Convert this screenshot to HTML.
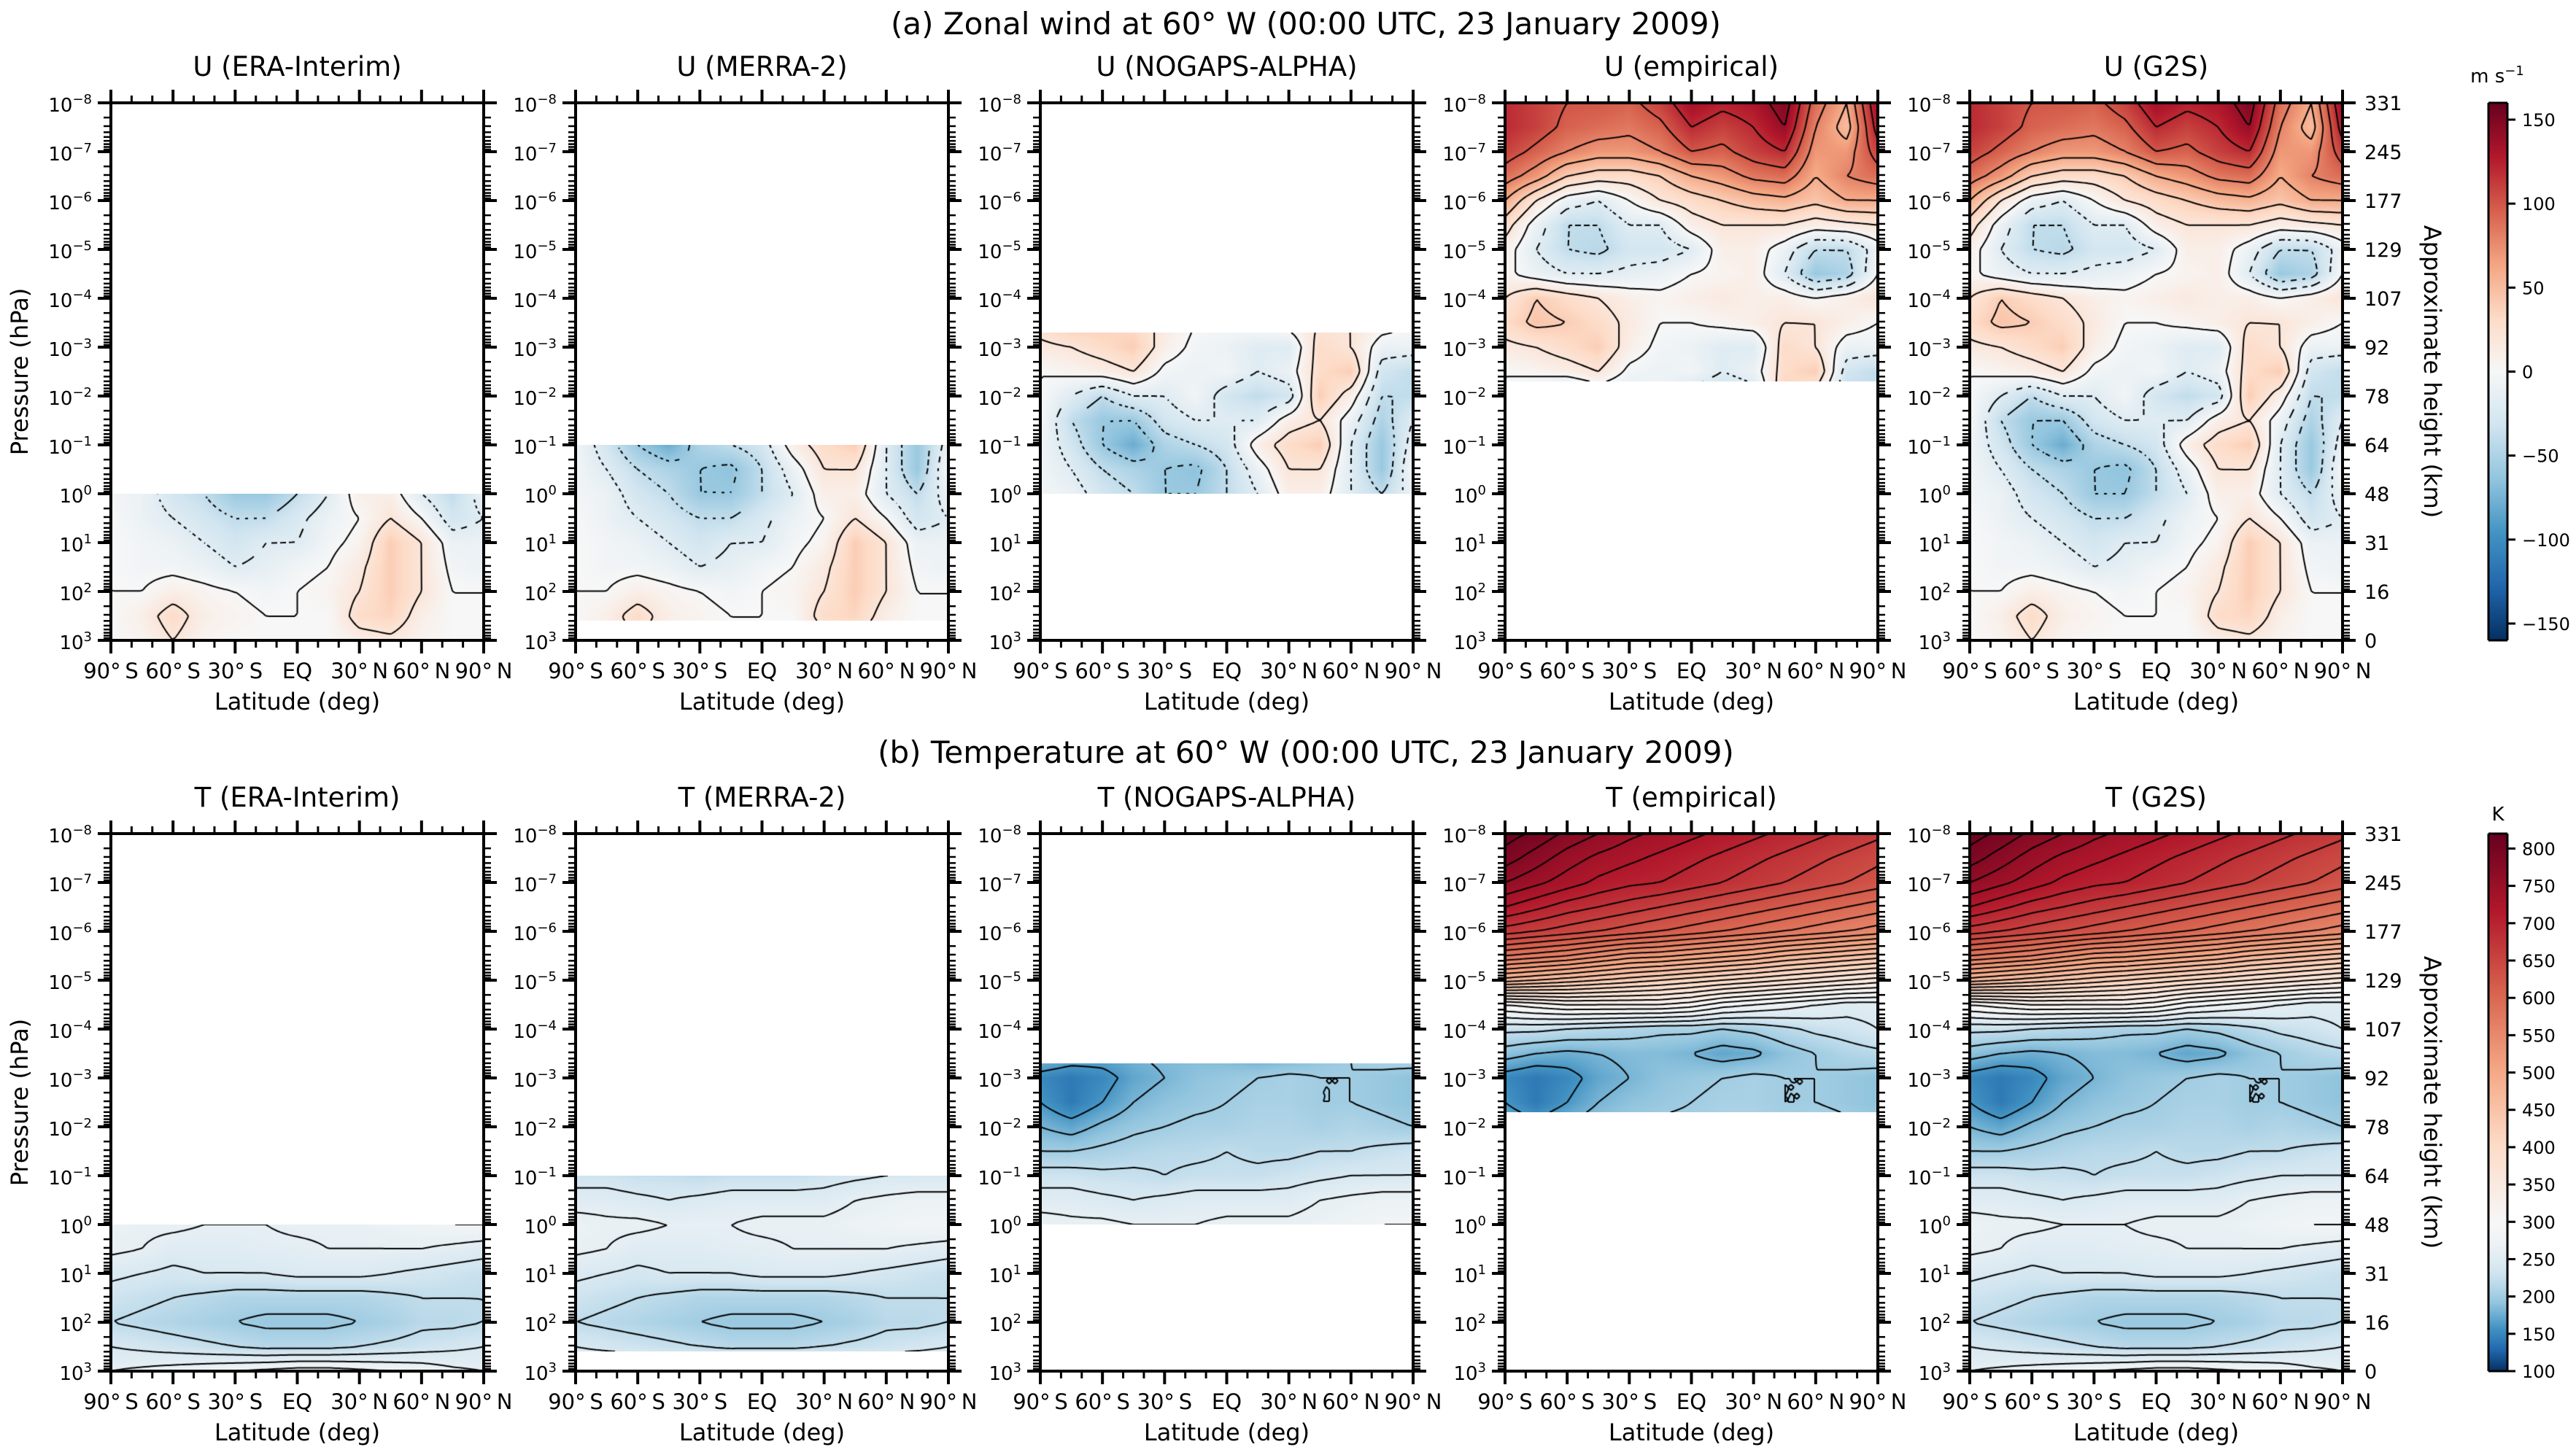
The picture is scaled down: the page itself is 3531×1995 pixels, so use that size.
<!DOCTYPE html>
<html><head><meta charset="utf-8">
<style>
html,body{margin:0;padding:0;background:#fff;}
#root{position:relative;width:3531px;height:1995px;overflow:hidden;background:#fff;font-family:"DejaVu Sans","Liberation Sans",sans-serif;}
canvas{position:absolute;}
svg{position:absolute;left:0;top:0;}
</style></head>
<body>
<div id="root">
<svg id="ov" width="3531" height="1995"></svg>
</div>
<script>
// ---- data ----
const latitudes=[-90,-75,-60,-45,-30,-15,0,15,30,45,60,75,90];
const logPressureLevels=[-8,-7.5,-7,-6.5,-6,-5.5,-5,-4.5,-4,-3.5,-3,-2.5,-2,-1.5,-1,-0.5,0,0.5,1,1.5,2,2.5,3];
const uWind=[
[120,110,100,100,95,110,135,125,130,150,90,60,140],
[120,110,95,90,85,95,120,110,120,140,80,50,130],
[110,95,80,70,70,80,100,95,110,120,70,70,110],
[90,70,40,30,30,40,60,70,85,90,60,80,90],
[60,20,-10,-20,0,20,30,40,50,55,45,60,60],
[30,-10,-40,-40,-20,-20,10,20,20,20,10,15,20],
[10,-20,-40,-45,-30,-30,-20,10,10,-10,-40,-40,-10],
[5,-10,-20,-20,-15,-10,0,5,10,-20,-60,-50,0],
[20,40,30,20,10,5,10,15,10,10,0,10,20],
[30,45,40,30,15,0,0,5,10,20,20,10,0],
[15,20,30,40,10,-5,-10,-20,-20,30,20,-10,-10],
[0,5,10,20,-5,-10,-5,-20,-10,30,40,-30,-40],
[0,-20,-40,-20,-20,-5,-30,-40,-30,40,10,-40,-40],
[0,-40,-60,-60,-30,-20,-20,-20,10,20,-10,-50,-20],
[-5,-30,-60,-80,-50,-40,-30,10,30,40,-20,-60,-10],
[-5,-20,-40,-50,-60,-65,-40,-10,20,20,-20,-60,0],
[-5,-10,-30,-40,-60,-60,-40,-20,10,10,-20,-40,-10],
[0,-10,-20,-30,-40,-40,-25,-10,0,20,0,-30,-20],
[0,-5,-10,-20,-30,-20,-20,-5,5,40,20,-10,-10],
[0,-5,-5,-10,-20,-15,-5,0,15,40,20,-5,-10],
[0,0,10,5,0,-5,0,5,20,40,20,0,0],
[0,10,30,10,5,0,0,0,30,35,10,0,0],
[0,5,20,5,0,0,0,0,10,15,5,0,0]];
const temperature=[
[810,795,775,760,745,735,725,715,705,695,685,675,665],
[790,770,750,735,725,715,705,695,685,675,665,655,645],
[760,745,730,715,705,700,690,680,670,660,650,640,630],
[720,705,690,680,670,660,650,640,630,620,610,600,590],
[670,660,650,640,630,620,610,600,590,580,570,560,550],
[580,570,560,545,530,525,515,505,495,480,470,460,450],
[470,460,450,440,430,420,410,400,390,380,370,360,350],
[300,310,320,320,320,320,310,290,280,270,260,250,250],
[225,225,220,215,210,205,205,200,205,215,225,230,240],
[190,180,175,180,185,185,180,170,175,190,200,210,215],
[150,140,150,170,180,190,195,200,205,200,200,195,190],
[160,140,160,180,190,195,200,205,205,200,200,195,190],
[180,170,185,195,200,205,205,210,210,205,210,205,200],
[200,200,205,210,215,215,220,215,215,220,220,225,230],
[230,230,225,225,220,225,225,225,230,235,240,240,240],
[250,250,245,240,245,250,250,250,250,260,265,270,270],
[270,265,265,260,260,260,265,265,265,270,275,280,280],
[265,260,250,250,250,255,255,260,260,260,260,255,250],
[245,240,235,240,240,240,245,245,245,240,235,230,225],
[230,225,220,215,210,210,210,210,210,215,220,220,220],
[220,215,210,205,200,195,195,195,200,205,215,215,220],
[240,235,230,225,220,215,215,215,220,225,230,235,240],
[260,265,270,275,280,285,290,290,285,280,275,265,260]];
const datasets=['ERA-Interim','MERRA-2','NOGAPS-ALPHA','empirical','G2S'];
const rangeTop=[0,-1,-3.3,-8,-8];
const rangeBottom=[3,2.6,0,-2.3,3];
const heightTicks=['331','245','177','129','107','92','78','64','48','31','16','0'];
const latTickLabels=['90°\u2009S','60°\u2009S','30°\u2009S','EQ','30°\u2009N','60°\u2009N','90°\u2009N'];
const uCbarTicks=[-150,-100,-50,0,50,100,150];
const tCbarTicks=[100,150,200,250,300,350,400,450,500,550,600,650,700,750,800];

// ---- layout ----
const PL=152, PS=637, PW=511, PH=737;
const rowTops=[141,1143];
const root=document.getElementById('root');
const svg=document.getElementById('ov');
const NS='http://www.w3.org/2000/svg';

const cmapStops=[[5,48,97],[33,102,172],[67,147,195],[146,197,222],[209,229,240],[247,247,247],[253,219,199],[244,165,130],[214,96,77],[178,24,43],[103,0,31]];
function cmap(t){t=Math.max(0,Math.min(1,t));const f=t*10;const i=Math.min(9,Math.floor(f));const r=f-i;const a=cmapStops[i],b=cmapStops[i+1];return [a[0]+(b[0]-a[0])*r,a[1]+(b[1]-a[1])*r,a[2]+(b[2]-a[2])*r];}
function normU(v){return (v+160)/320;}
function normT(v){if(v<300){const d=Math.min(1,(300-v)/200);return 0.5-0.5*Math.pow(d,1.5);}return 0.5+(v-300)/1040;}
function interp(grid,lat,lp){
  let c=(lat+90)/15, r=(lp+8)/0.5;
  c=Math.max(0,Math.min(12,c)); r=Math.max(0,Math.min(22,r));
  const c0=Math.min(11,Math.floor(c)), r0=Math.min(21,Math.floor(r));
  const fc=c-c0, fr=r-r0;
  const a=grid[r0][c0],b=grid[r0][c0+1],d=grid[r0+1][c0],e=grid[r0+1][c0+1];
  return a*(1-fc)*(1-fr)+b*fc*(1-fr)+d*(1-fc)*fr+e*fc*fr;
}
function xOf(lat,i){return PL+i*PS+(lat+90)/180*PW;}
function yOf(lp,row){return rowTops[row]+(lp+8)/11*PH;}

function drawField(i,row,grid,norm,levels){
  const cv=document.createElement('canvas');
  
  
  const y0=Math.round(yOf(rangeTop[i],row)), y1=Math.round(yOf(rangeBottom[i],row));
  const x0=PL+i*PS;
  cv.width=PW; cv.height=y1-y0;
  cv.style.left=x0+'px'; cv.style.top=y0+'px';
  root.insertBefore(cv,svg);
  const ctx=cv.getContext('2d');
  const img=ctx.createImageData(PW,y1-y0);
  for(let py=0;py<y1-y0;py++){
    const lp=-8+(y0+py+0.5-rowTops[row])/PH*11;
    for(let px=0;px<PW;px++){
      const lat=-90+(px+0.5)/PW*180;
      const col=cmap(norm(interp(grid,lat,lp)));
      const k=(py*PW+px)*4;
      img.data[k]=col[0];img.data[k+1]=col[1];img.data[k+2]=col[2];img.data[k+3]=255;
    }
  }
  ctx.putImageData(img,0,0);
  const step=4;
  const nx=Math.ceil(PW/step)+1, ny=Math.ceil((y1-y0)/step)+1;
  const vals=[];
  for(let j=0;j<ny;j++){const rowv=[];const py=Math.min(j*step,y1-y0);const lp=-8+(y0+py-rowTops[row])/PH*11;
    for(let k=0;k<nx;k++){const px=Math.min(k*step,PW);rowv.push(interp(grid,-90+px/PW*180,lp));}vals.push(rowv);}
  ctx.strokeStyle='#000';ctx.lineWidth=2;
  levels.forEach(L=>{
    ctx.beginPath();
    for(let j=0;j<ny-1;j++)for(let k=0;k<nx-1;k++){
      const xa=Math.min(k*step,PW), xb=Math.min((k+1)*step,PW), ya=Math.min(j*step,y1-y0), yb=Math.min((j+1)*step,y1-y0);
      const v=[vals[j][k],vals[j][k+1],vals[j+1][k+1],vals[j+1][k]];
      const p=[[xa,ya],[xb,ya],[xb,yb],[xa,yb]];
      const pts=[];
      for(let e=0;e<4;e++){const a=v[e],b=v[(e+1)%4];
        if((a<L)!==(b<L)){const t=(L-a)/(b-a);const pa=p[e],pb=p[(e+1)%4];pts.push([pa[0]+(pb[0]-pa[0])*t,pa[1]+(pb[1]-pa[1])*t]);}}
      for(let q=0;q+1<pts.length;q+=2){
        if(L<0){const mx=(pts[q][0]+pts[q+1][0])/2,my=(pts[q][1]+pts[q+1][1])/2;
          if(Math.floor((mx+my)/6)%2===1)continue;}
        ctx.moveTo(pts[q][0],pts[q][1]);ctx.lineTo(pts[q+1][0],pts[q+1][1]);}
    }
    ctx.stroke();
  });
}

function line(x1,y1,x2,y2,w,name){
  const l=document.createElementNS(NS,'line');
  l.setAttribute('x1',x1);l.setAttribute('y1',y1);l.setAttribute('x2',x2);l.setAttribute('y2',y2);
  l.setAttribute('stroke','#000');l.setAttribute('stroke-width',w);
  
  
  svg.appendChild(l);return l;
}
function text(x,y,s,size,anchor,name){
  const t=document.createElementNS(NS,'text');
  t.setAttribute('x',x);t.setAttribute('y',y);t.setAttribute('font-size',size);
  t.setAttribute('text-anchor',anchor);t.setAttribute('fill','#000');
  t.textContent=s;
  
  
  svg.appendChild(t);return t;
}
function powLabel(x,y,exp,name){
  const t=document.createElementNS(NS,'text');
  t.setAttribute('x',x);t.setAttribute('y',y);t.setAttribute('font-size',26);t.setAttribute('text-anchor','end');
  const a=document.createElementNS(NS,'tspan');a.textContent='10';t.appendChild(a);
  const b=document.createElementNS(NS,'tspan');b.setAttribute('dy',-11);b.setAttribute('font-size',18);
  b.textContent=(exp<0?'\u2212':'')+Math.abs(exp);t.appendChild(b);
  
  
  svg.appendChild(t);
}

for(let row=0;row<2;row++){
  const grid=row===0?uWind:temperature, norm=row===0?normU:normT;
  const levels=[];
  if(row===0){for(let v=-160;v<=160;v+=20)levels.push(v);}else{for(let v=120;v<=820;v+=20)levels.push(v);}
  const top=rowTops[row], bot=top+PH;
  for(let i=0;i<5;i++){
    drawField(i,row,grid,norm,levels);
    const x0=PL+i*PS, x1=x0+PW;
    line(x0,top,x1,top,4,'top-spine');line(x0,bot,x1,bot,4,'bottom-spine');
    line(x0,top,x0,bot,4,'left-spine');line(x1,top,x1,bot,4,'right-spine');
    for(let lat=-90;lat<=90;lat+=10){
      const x=xOf(lat,i), major=(lat%30===0);const len=major?18:10;
      line(x,top,x,top-len,major?4:3,'x-tick-top');line(x,bot,x,bot+len,major?4:3,'x-tick-bottom');
    }
    latTickLabels.forEach((s,k)=>text(xOf(-90+30*k,i),bot+52,s,29,'middle','x-tick-label'));
    text(x0+PW/2,bot+95,'Latitude (deg)',32,'middle','x-axis-title');
    for(let e=-8;e<=3;e++){
      const y=yOf(e,row);
      line(x0,y,x0-18,y,4,'y-tick-major');line(x1,y,x1+18,y,4,'y-tick-major-right');
      powLabel(x0-26,y+12,e,'y-tick-label');
      if(e<3)for(let m=2;m<=9;m++){const ym=yOf(e+Math.log10(m),row);
        line(x0,ym,x0-10,ym,2.5,'y-tick-minor');line(x1,ym,x1+10,ym,2.5,'y-tick-minor-right');}
    }
    text(x0+PW/2,top-37,(row===0?'U (':'T (')+datasets[i]+')',37,'middle','panel-title');
  }
  const xr=PL+4*PS+PW;
  heightTicks.forEach((s,k)=>text(xr+30,yOf(-8+k,row)+10,s,27,'start','height-tick-label'));
  const ah=text(0,0,'Approximate height (km)',32,'middle','height-axis-title');
  ah.setAttribute('transform','translate('+(xr+112)+','+(top+PH/2)+') rotate(90)');
  const ph=text(0,0,'Pressure (hPa)',32,'middle','pressure-axis-title');
  ph.setAttribute('transform','translate(38,'+(top+PH/2)+') rotate(-90)');
  const cbx=3411, cbw=26;
  const cb=document.createElement('canvas');
  
  
  cb.width=cbw;cb.height=PH;cb.style.left=cbx+'px';cb.style.top=top+'px';
  root.insertBefore(cb,svg);
  const cc=cb.getContext('2d');
  const vmin=row===0?-160:100, vmax=row===0?160:820;
  for(let py=0;py<PH;py++){const v=vmax-(py+0.5)/PH*(vmax-vmin);const c=cmap(norm(v));
    cc.fillStyle='rgb('+Math.round(c[0])+','+Math.round(c[1])+','+Math.round(c[2])+')';cc.fillRect(0,py,cbw,1);}
  line(cbx,top,cbx+cbw,top,3,'colorbar-frame');line(cbx,bot,cbx+cbw,bot,3,'colorbar-frame');
  line(cbx,top,cbx,bot,3,'colorbar-frame');line(cbx+cbw,top,cbx+cbw,bot,3,'colorbar-frame');
  (row===0?uCbarTicks:tCbarTicks).forEach(v=>{const y=bot-(v-vmin)/(vmax-vmin)*PH;
    line(cbx+cbw,y,cbx+cbw+11,y,3,'colorbar-tick');
    text(cbx+cbw+20,y+9,v<0?'\u2212'+Math.abs(v):String(v),24,'start','colorbar-tick-label');});
}
const mu=text(3423,113,'m s',26,'middle','u-colorbar-unit');
const sup=document.createElementNS(NS,'tspan');sup.setAttribute('dy',-10);sup.setAttribute('font-size',18);sup.textContent='\u22121';mu.appendChild(sup);
text(3424,1125,'K',26,'middle','t-colorbar-unit');
text(1790,47,'(a) Zonal wind at 60° W (00:00 UTC, 23 January 2009)',42,'middle','title-zonal-wind');
text(1790,1046,'(b) Temperature at 60° W (00:00 UTC, 23 January 2009)',42,'middle','title-temperature');
</script>
</body></html>
